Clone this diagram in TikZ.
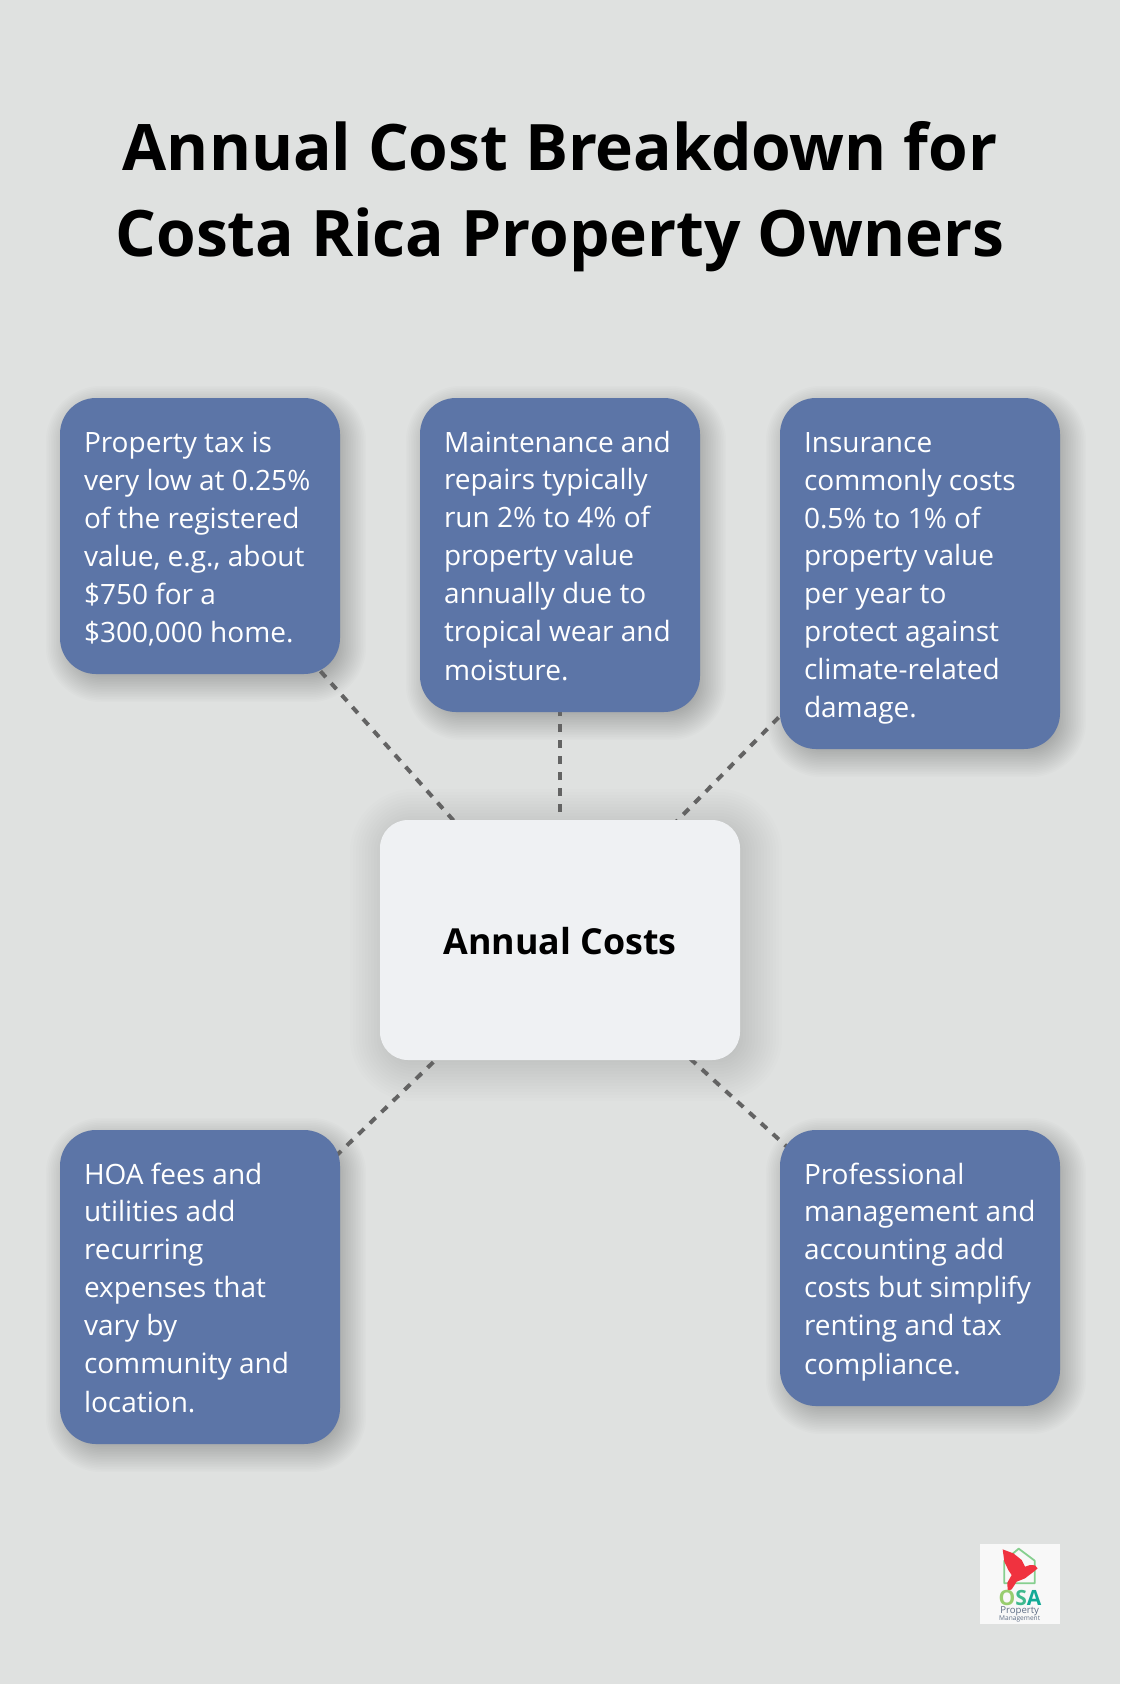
\documentclass[tikz,border=0pt]{standalone}
\usepackage{fontspec}
\setmainfont{Open Sans}
\usepackage{xcolor}
\usepackage{tikz}
\usetikzlibrary{backgrounds}

\definecolor{pagebg}{HTML}{DFE1E0}
\definecolor{boxblue}{HTML}{5C75A7}
\definecolor{hubgray}{HTML}{EFF1F3}
\definecolor{dashgray}{HTML}{636363}
\definecolor{logopaper}{HTML}{F8F8F8}
\definecolor{logored}{HTML}{F0323F}
\definecolor{logogreen}{HTML}{86CF8F}
\definecolor{logolime}{HTML}{98CD6E}
\definecolor{logomid}{HTML}{3FB98E}
\definecolor{logoteal}{HTML}{12AA96}
\definecolor{logoslate}{HTML}{5F6E86}

\tikzset{
  infobox/.style={fill=boxblue, text=white, rounded corners=36pt, minimum width=280pt,
    inner xsep=24pt, inner ysep=0pt, text width=232pt, align=flush left,
    font=\fontsize{28}{37.95}\selectfont},
  hubbox/.style={fill=hubgray, rounded corners=28pt, minimum width=360pt, minimum height=240pt,
    inner sep=0pt, text height=30pt, font=\fontsize{35.8}{44}\selectfont\bfseries},
  link/.style={draw=dashgray, line width=4pt, dash pattern=on 8pt off 8pt}
}

\newcommand{\bstrut}{\rule[-8.5pt]{0pt}{39.9pt}}
% node, radius, spread, opacity of one layer, drop
\newcommand{\softshadow}[5]{%
  \foreach \i in {-12,...,12} {
    \pgfmathsetmacro{\d}{\i*#3/12}
    \pgfmathsetmacro{\rad}{max(#2+\d,1)}
    \fill[black, opacity=#4, rounded corners=\rad pt]
      ([shift={(6pt-\d pt,-#5 pt+\d pt)}]#1.north west) rectangle ([shift={(6pt+\d pt,-#5 pt-\d pt)}]#1.south east);
  }
}

\begin{document}
\begin{tikzpicture}[x=1pt, y=-1pt]
  \useasboundingbox (0,0) rectangle (1120,1684);

  \node[font=\fontsize{64.1}{86}\selectfont\bfseries, align=center, inner sep=0pt] (title) at (560,196.5)
    {Annual Cost Breakdown for\\Costa Rica Property Owners};

  \node[hubbox] (hub) at (560,940) {Annual Costs};

  \node[infobox, minimum height=276pt] (tax) at (200,536)
    {\bstrut Property tax is\\very low at 0.25\%\\of the registered\\value, e.g., about\\\$750 for a\\\$300,000 home.\bstrut};
  \node[infobox, minimum height=314pt] (upkeep) at (560,555)
    {\bstrut Maintenance and\\repairs typically\\run 2\% to 4\% of\\property value\\annually due to\\tropical wear and\\moisture.\bstrut};
  \node[infobox, minimum height=351pt] (cover) at (920,573.5)
    {\bstrut Insurance\\commonly costs\\0.5\% to 1\% of\\property value\\per year to\\protect against\\climate-related\\damage.\bstrut};
  \node[infobox, minimum height=314pt] (hoa) at (200,1287)
    {\bstrut HOA fees and\\utilities add\\recurring\\expenses that\\vary by\\community and\\location.\bstrut};
  \node[infobox, minimum height=276pt] (mgmt) at (920,1268)
    {\bstrut Professional\\management and\\accounting add\\costs but simplify\\renting and tax\\compliance.\bstrut};

  \begin{scope}[on background layer]
    \fill[pagebg] (0,0) rectangle (1120,1684);
    \softshadow{hub}{28}{36}{0.009}{5}
    \softshadow{tax}{36}{20}{0.0125}{8}
    \softshadow{upkeep}{36}{20}{0.0125}{8}
    \softshadow{cover}{36}{20}{0.0125}{8}
    \softshadow{hoa}{36}{20}{0.0125}{8}
    \softshadow{mgmt}{36}{20}{0.0125}{8}
    \draw[link] (hub.center) -- (tax.center);
    \draw[link] (hub.center) -- (upkeep.center);
    \draw[link] (hub.center) -- (cover.center);
    \draw[link] (hub.center) -- (hoa.center);
    \draw[link] (hub.center) -- (mgmt.center);
  \end{scope}

  % logo
  \begin{scope}[shift={(960,1530)}, x=0.3333pt, y=-0.3333pt]
    \fill[logopaper] (60,42) rectangle (300,282);
    \draw[logogreen, line width=1.8pt, line join=round]
      (133,92) -- (176,56) -- (224,92) -- (224,160) -- (133,160) -- cycle;
    \fill[logored] (128,58) -- (160,70) -- (185,90) -- (195,110) -- (210,105) -- (225,106) -- (233,115)
      -- (225,122) -- (195,145) -- (170,155) -- (155,178) -- (143,183) -- (142,158)
      -- (155,135) -- (145,120) -- (133,95) -- cycle;
    \node[inner sep=0pt, text height=15pt, text depth=0pt, font=\fontsize{21}{21}\selectfont\bfseries] (logoname) at (180,204)
      {\textcolor{logolime}{O}\textcolor{logomid}{S}\textcolor{logoteal}{A}};
    \node[inner sep=0pt, text=logoslate, text height=7pt, text depth=2pt, font=\fontsize{9.6}{10}\selectfont] (logoprop) at (179,243) {Property};
    \node[inner sep=0pt, text=logoslate, text height=5pt, text depth=1pt, font=\fontsize{6.6}{7}\selectfont] (logomgmt) at (179,266) {Management};
  \end{scope}
\end{tikzpicture}
\end{document}
